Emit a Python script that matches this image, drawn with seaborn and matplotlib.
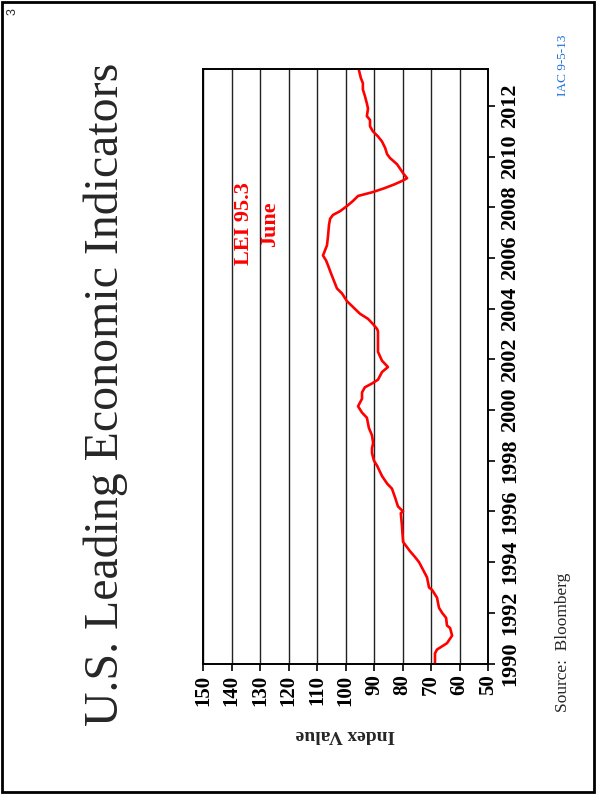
import matplotlib
matplotlib.use("Agg")
import matplotlib.pyplot as plt
from matplotlib.patches import Rectangle
import seaborn as sns
import pandas as pd

# Conference Board Leading Economic Index, sampled along the curve (decimal year, index value)
dates = [
    1990.00, 1990.40, 1990.55, 1990.80, 1991.10, 1991.40, 1991.50, 1991.80,
    1992.00, 1992.20, 1992.60, 1992.90, 1993.00, 1993.40, 1993.70, 1994.00,
    1994.20, 1994.45, 1994.80, 1995.45, 1995.93, 1996.00, 1996.20, 1996.55,
    1996.90, 1997.10, 1997.40, 1997.80, 1998.00, 1998.30, 1998.50, 1998.70,
    1999.00, 1999.30, 1999.70, 1999.90, 2000.15, 2000.45, 2000.70, 2000.90,
    2001.05, 2001.20, 2001.50, 2001.70, 2001.95, 2002.30, 2002.70, 2003.10,
    2003.20, 2003.40, 2003.60, 2003.80, 2004.05, 2004.30, 2004.60, 2004.80,
    2005.20, 2005.40, 2005.70, 2005.90, 2006.10, 2006.30, 2006.50, 2006.90,
    2007.30, 2007.55, 2007.70, 2007.85, 2008.05, 2008.25, 2008.45, 2008.60,
    2008.75, 2008.90, 2009.05, 2009.15, 2009.35, 2009.70, 2009.95, 2010.10,
    2010.35, 2010.60, 2010.80, 2011.00, 2011.20, 2011.45, 2011.60, 2011.90,
    2012.10, 2012.40, 2012.65, 2012.90, 2013.10, 2013.42,
]
lei = [
    68.6, 68.6, 67.9, 64.4, 62.6, 63.3, 64.4, 64.7,
    66.1, 67.2, 67.9, 69.6, 70.7, 71.4, 72.8, 74.2,
    75.6, 77.5, 79.8, 80.2, 80.6, 79.8, 81.6, 82.6,
    83.7, 85.4, 87.2, 88.9, 90.0, 90.7, 90.7, 90.3,
    90.7, 91.8, 92.5, 94.2, 95.6, 94.2, 94.2, 93.2,
    90.7, 88.6, 87.2, 85.1, 87.2, 88.6, 88.6, 88.6,
    88.9, 90.4, 92.1, 94.9, 97.2, 99.5, 101.2, 103.0,
    104.4, 105.1, 106.1, 106.8, 107.9, 107.2, 106.5, 106.1,
    105.8, 105.4, 104.4, 101.9, 99.5, 97.4, 95.6, 90.5,
    86.5, 83.0, 80.0, 78.4, 79.8, 81.9, 84.4, 85.4,
    86.1, 87.2, 88.6, 90.4, 91.4, 91.4, 92.5, 92.1,
    92.5, 93.2, 93.9, 93.9, 94.6, 95.3,
]

value_ticks = list(range(150, 40, -10))
year_ticks = list(range(1990, 2013, 2))
latest_value = 95.3
latest_month = "June"

df = pd.DataFrame({"date": dates, "lei": lei})

sns.set_style("white")
plt.rcParams["font.family"] = ["Liberation Serif", "DejaVu Serif"]

W, H = 597, 797
fig = plt.figure(figsize=(W / 100, H / 100), dpi=100)

def fx(px):
    return px / W

def fy(py):
    return 1 - py / H

# page frame
fig.patches.append(Rectangle((fx(1.5), fy(791.5)), fx(592.5), (790 / H),
                             transform=fig.transFigure, fill=False,
                             edgecolor="black", linewidth=2.0))

left, right, top, bottom = 203, 488, 69, 663.5
ax = fig.add_axes([fx(left), fy(bottom), fx(right - left), (bottom - top) / H])

sns.lineplot(data=df, x="lei", y="date", sort=False, estimator=None,
             color="#ff0000", linewidth=1.9, ax=ax)

ax.set_xlim(150, 50)
ax.set_ylim(1990, 2013.46)

ax.set_xticks(value_ticks)
ax.set_xticklabels([str(v) for v in value_ticks], rotation=90,
                   fontsize=15, fontweight="bold")
ax.set_yticks(year_ticks)
ax.yaxis.tick_right()
ax.set_yticklabels([str(y) for y in year_ticks], rotation=90, va="center",
                   fontsize=16, fontweight="bold")
ax.tick_params(axis="x", direction="out", length=5, width=1.2, pad=3,
               bottom=True, colors="black")
ax.tick_params(axis="y", direction="out", length=5, width=1.2, pad=4,
               right=True, left=False, colors="black")
ax.set_xlabel("")
ax.set_ylabel("")

ax.grid(axis="x", color="#222222", linewidth=1.0)
ax.grid(axis="y", visible=False)
ax.set_axisbelow(True)
for s in ax.spines.values():
    s.set_visible(True)
    s.set_color("black")
    s.set_linewidth(1.4)

# latest reading annotation
ax.text(135.6, 2007.35, f"LEI {latest_value}", rotation=90, ha="center",
        va="center", color="#ff0000", fontsize=16, fontweight="bold")
ax.text(126.4, 2007.35, latest_month, rotation=90, ha="center",
        va="center", color="#ff0000", fontsize=16, fontweight="bold")

fig.text(fx(345), fy(735), "Index Value", rotation=180, ha="center",
         va="center", fontsize=14, fontweight="bold")

fig.text(fx(106), fy(394), "U.S. Leading Economic Indicators", rotation=90,
         ha="center", va="center", fontsize=34.5)

fig.text(fx(563), fy(642), "Source:  Bloomberg", rotation=90, ha="center",
         va="center", fontsize=12.5)
fig.text(fx(563), fy(65), "IAC 9-5-13", rotation=90, ha="center",
         va="center", fontsize=9.5, color="#1a6fd8")
fig.text(fx(13), fy(12), "3", rotation=90, ha="center", va="center",
         fontsize=9, family=["Liberation Sans", "DejaVu Sans"])

fig.savefig("out.png", dpi=100)
